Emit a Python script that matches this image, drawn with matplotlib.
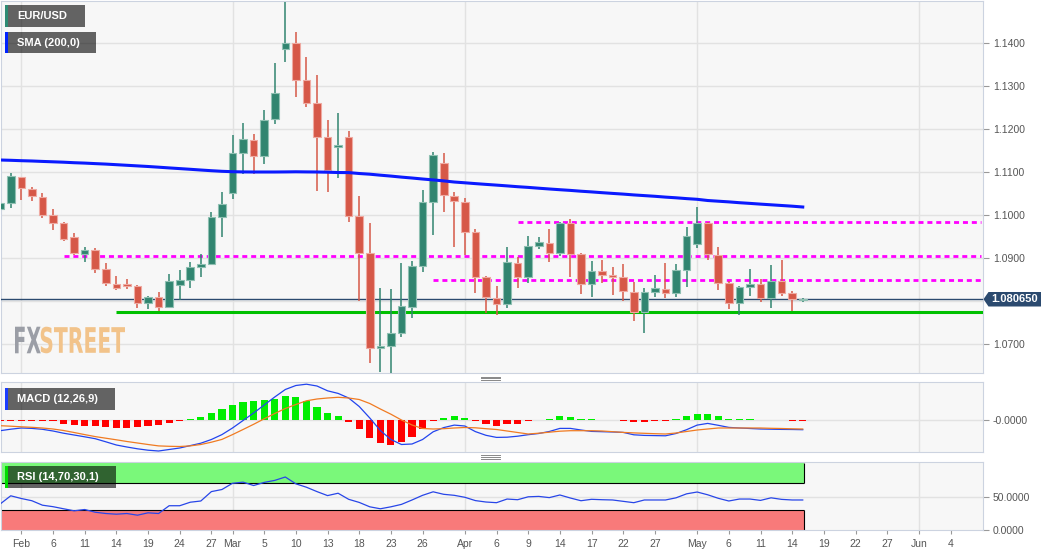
import numpy as np
import pandas as pd
import matplotlib
matplotlib.use('Agg')
import matplotlib.pyplot as plt
from matplotlib.patches import Rectangle, Polygon, PathPatch
from matplotlib.lines import Line2D
from matplotlib.textpath import TextPath
from matplotlib.font_manager import FontProperties
from matplotlib.transforms import Affine2D

plt.rcParams['font.family'] = ['Liberation Sans', 'DejaVu Sans']

# daily candles, 30 Jan 2020 .. 15 May 2020 (weekdays)
opens = [1.1014, 1.1029, 1.1088, 1.1062, 1.1043, 1.1001, 1.0981, 1.0949, 1.0911, 1.0919,
         1.0876, 1.0840, 1.0840, 1.0836, 1.0795, 1.0809, 1.0786, 1.0838, 1.0850, 1.0879,
         1.0886, 1.0997, 1.1053, 1.1144, 1.1175, 1.1139, 1.1223, 1.1387, 1.1400, 1.1315,
         1.1262, 1.1183, 1.1158, 1.1183, 1.0998, 1.0913, 1.0692, 1.0696, 1.0727, 1.0787,
         1.0882, 1.1032, 1.1121, 1.1046, 1.1032, 1.0962, 1.0856, 1.0807, 1.0794, 1.0890,
         1.0857, 1.0929, 1.0936, 1.0913, 1.0981, 1.0910, 1.0840, 1.0871, 1.0861, 1.0857,
         1.0822, 1.0776, 1.0822, 1.0829, 1.0820, 1.0873, 1.0933, 1.0981, 1.0908, 1.0843,
         1.0795, 1.0834, 1.0840, 1.0808, 1.0847, 1.0819, 1.0804]
highs = [1.1031, 1.1098, 1.1090, 1.1066, 1.1051, 1.1014, 1.0985, 1.0958, 1.0927, 1.0925,
         1.0888, 1.0860, 1.0852, 1.0839, 1.0812, 1.0821, 1.0863, 1.0873, 1.0891, 1.0910,
         1.1007, 1.1054, 1.1187, 1.1214, 1.1188, 1.1245, 1.1354, 1.1495, 1.1426, 1.1367,
         1.1327, 1.1222, 1.1237, 1.1195, 1.1045, 1.0981, 1.0830, 1.0829, 1.0888, 1.0894,
         1.1059, 1.1148, 1.1144, 1.1055, 1.1040, 1.0967, 1.0858, 1.0836, 1.0926, 1.0902,
         1.0952, 1.0950, 1.0967, 1.0985, 1.0991, 1.0913, 1.0894, 1.0896, 1.0879, 1.0886,
         1.0846, 1.0830, 1.0861, 1.0888, 1.0886, 1.0972, 1.1019, 1.0985, 1.0926, 1.0847,
         1.0836, 1.0875, 1.0851, 1.0884, 1.0896, 1.0824, 1.0807]
lows = [1.1008, 1.1016, 1.1036, 1.1033, 1.0993, 1.0966, 1.0940, 1.0908, 1.0891, 1.0865,
        1.0836, 1.0826, 1.0828, 1.0785, 1.0781, 1.0777, 1.0784, 1.0803, 1.0830, 1.0857,
        1.0885, 1.0950, 1.1038, 1.1095, 1.1095, 1.1119, 1.1212, 1.1356, 1.1274, 1.1251,
        1.1057, 1.1055, 1.1086, 1.0985, 1.0801, 1.0656, 1.0636, 1.0634, 1.0718, 1.0761,
        1.0869, 1.0954, 1.1008, 1.0927, 1.0908, 1.0820, 1.0772, 1.0768, 1.0784, 1.0830,
        1.0842, 1.0922, 1.0892, 1.0905, 1.0856, 1.0816, 1.0811, 1.0842, 1.0815, 1.0801,
        1.0755, 1.0727, 1.0811, 1.0807, 1.0811, 1.0834, 1.0923, 1.0896, 1.0826, 1.0781,
        1.0768, 1.0813, 1.0799, 1.0784, 1.0812, 1.0777, 1.0798]
closes = [1.1028, 1.1092, 1.1063, 1.1046, 1.1001, 1.0981, 1.0944, 1.0912, 1.0919, 1.0876,
          1.0842, 1.0830, 1.0836, 1.0795, 1.0809, 1.0787, 1.0847, 1.0850, 1.0879, 1.0886,
          1.0995, 1.1026, 1.1144, 1.1177, 1.1139, 1.1222, 1.1284, 1.1400, 1.1315, 1.1262,
          1.1183, 1.1105, 1.1164, 1.0998, 1.0913, 1.0692, 1.0697, 1.0727, 1.0789, 1.0882,
          1.1030, 1.1140, 1.1047, 1.1033, 1.0962, 1.0857, 1.0809, 1.0793, 1.0891, 1.0857,
          1.0929, 1.0937, 1.0913, 1.0981, 1.0910, 1.0840, 1.0871, 1.0861, 1.0857, 1.0824,
          1.0776, 1.0821, 1.0830, 1.0820, 1.0873, 1.0953, 1.0981, 1.0909, 1.0843, 1.0795,
          1.0833, 1.0840, 1.0808, 1.0847, 1.0819, 1.0805, 1.08065]

sma200 = [1.11286, 1.11279, 1.11270, 1.11263, 1.11253, 1.11244, 1.11235, 1.11223, 1.11214, 1.11202,
          1.11191, 1.11177, 1.11163, 1.11149, 1.11135, 1.11119, 1.11102, 1.11086, 1.11070, 1.11053,
          1.11037, 1.11023, 1.11014, 1.11009, 1.11007, 1.11007, 1.11007, 1.11009, 1.11012, 1.11009,
          1.11007, 1.11002, 1.10995, 1.10993, 1.10972, 1.10956, 1.10933, 1.10912, 1.10888, 1.10867,
          1.10844, 1.10823, 1.10800, 1.10774, 1.10756, 1.10737, 1.10719, 1.10702, 1.10684, 1.10665,
          1.10649, 1.10630, 1.10612, 1.10595, 1.10579, 1.10560, 1.10544, 1.10526, 1.10509, 1.10493,
          1.10474, 1.10458, 1.10442, 1.10423, 1.10407, 1.10388, 1.10372, 1.10344, 1.10328, 1.10312,
          1.10293, 1.10277, 1.10260, 1.10244, 1.10228, 1.10212, 1.10193]

# MACD (12,26,9), in units of 0.0001
macd = [-11.2, -9.7, -8.5, -8.9, -9.8, -11.5, -13.7, -15.5, -17.3, -19.2,
        -22.3, -25.5, -27.5, -29.3, -30.7, -31.5, -30.0, -28.5, -26.1, -23.7,
        -20.0, -15.1, -8.5, -1.0, 6.5, 14.5, 22.5, 30.0, 34.0, 35.3,
        33.5, 28.7, 26.1, 21.5, 13.0, 1.5, -11.0, -20.0, -25.0, -24.5,
        -20.0, -12.3, -8.1, -5.6, -6.5, -12.1, -15.8, -17.9, -17.7, -16.7,
        -15.2, -14.0, -12.0, -8.9, -8.9, -10.5, -11.9, -12.2, -12.5, -12.9,
        -15.3, -15.9, -16.1, -16.3, -14.0, -10.2, -5.6, -3.9, -5.8, -7.9,
        -8.5, -9.0, -9.5, -9.7, -9.9, -10.0, -10.2]
signal = [-6.2, -6.7, -7.3, -7.8, -8.5, -9.5, -11.0, -13.0, -15.1, -17.1,
          -18.7, -20.3, -22.0, -23.5, -25.0, -26.4, -26.8, -27.0, -26.4, -25.0,
          -22.7, -19.9, -15.1, -10.0, -4.8, 0.7, 6.0, 11.0, 15.0, 18.7,
          20.5, 21.5, 22.2, 21.5, 20.0, 16.0, 10.5, 5.3, -0.5, -5.5,
          -9.0, -9.5, -9.2, -8.5, -8.0, -8.3, -9.2, -10.0, -11.5, -13.0,
          -14.5, -13.7, -12.7, -11.7, -11.2, -11.2, -11.2, -11.5, -12.2, -12.9,
          -13.4, -13.8, -14.2, -14.5, -13.5, -12.0, -10.5, -9.5, -8.5, -8.5,
          -8.5, -8.5, -8.5, -8.8, -9.0, -9.3, -9.5]
hist = [-1.5, -1.5, -1.5, -1.5, -1.5, -1.5, -4.0, -5.0, -6.4, -6.8,
        -7.4, -8.1, -8.1, -7.4, -6.4, -5.0, -3.4, -1.0, 0.5, 2.4,
        6.4, 10.1, 14.5, 17.9, 18.2, 19.6, 20.6, 23.6, 22.3, 18.6,
        12.8, 6.8, 3.4, -2.4, -9.1, -18.6, -23.6, -25.0, -22.6, -17.6,
        -9.8, -1.0, 1.7, 3.4, 2.0, -1.0, -4.0, -6.4, -4.4, -4.0,
        -1.5, -0.5, 0.5, 3.4, 2.7, 0.5, 0.3, -0.3, -0.5, -1.0,
        -2.4, -2.0, -1.0, -1.0, 0.5, 3.7, 6.0, 6.0, 4.0, 1.0,
        0.5, 0.3, -0.5, -0.3, -0.5, -1.0, -1.0]

rsi = [39.1, 51.2, 47.2, 43.9, 37.3, 35.1, 32.0, 29.0, 30.9, 26.9,
       25.0, 24.0, 25.0, 22.5, 26.0, 25.0, 36.5, 36.5, 41.7, 43.5,
       57.4, 60.5, 69.7, 71.4, 66.4, 71.0, 74.0, 79.0, 68.9, 63.9,
       57.4, 51.5, 55.0, 46.0, 41.4, 34.9, 32.0, 34.9, 38.5, 45.0,
       51.9, 57.1, 53.4, 51.9, 49.0, 44.1, 42.0, 41.0, 46.4, 45.4,
       49.7, 50.3, 48.5, 52.4, 47.9, 43.9, 46.0, 45.4, 45.0, 43.0,
       41.0, 45.0, 45.0, 45.0, 48.2, 54.1, 56.8, 52.7, 47.5, 43.5,
       46.4, 46.4, 44.4, 48.2, 45.9, 45.0, 45.0]

tick_dates = ['2020-02-03', '2020-02-06', '2020-02-11', '2020-02-14', '2020-02-19', '2020-02-24',
              '2020-02-27', '2020-03-02', '2020-03-05', '2020-03-10', '2020-03-13', '2020-03-18',
              '2020-03-23', '2020-03-26', '2020-04-01', '2020-04-06', '2020-04-09', '2020-04-14',
              '2020-04-17', '2020-04-22', '2020-04-27', '2020-05-01', '2020-05-06', '2020-05-11',
              '2020-05-14', '2020-05-19', '2020-05-22', '2020-05-27', '2020-06-01', '2020-06-04']
tick_labels = ['Feb', '6', '11', '14', '19', '24', '27', 'Mar', '5', '10', '13', '18', '23', '26',
               'Apr', '6', '9', '14', '17', '22', '27', 'May', '6', '11', '14', '19', '22', '27',
               'Jun', '4']
month_starts = ['2020-02-03', '2020-03-02', '2020-04-01', '2020-05-01', '2020-06-01']

last_price = 1.08065
support = 1.0776
resist = [(1.0984, '2020-04-08'), (1.0905, '2020-02-07'), (1.0849, '2020-03-27')]

W, H = 1060, 555
GREEN, RED = '#318570', '#d65848'
GREEN_E, RED_E = '#8fc0b2', '#efaaa2'
BG = '#f7f7f7'
SPINE = '#ccd3e0'
GRID = '#e2e2e2'

days = pd.bdate_range('2020-01-30', '2020-06-10')
pos = lambda d: days.get_loc(pd.Timestamp(d)) - 2
xs = np.arange(len(closes)) - 2

fig = plt.figure(figsize=(W / 100, H / 100), dpi=100)
# image pixel coords (origin top-left) -> display
T = Affine2D().scale(1, -1).translate(0, H)


def panel(top, bottom):
    ax = fig.add_axes([0.5 / W, 1 - bottom / H, 982.5 / W, (bottom - top) / H])
    ax.set_facecolor(BG)
    for s in ax.spines.values():
        s.set_color(SPINE)
    ax.set_xlim(-1.97, 91.07)
    ax.yaxis.tick_right()
    ax.tick_params(axis='y', direction='out', length=4, color='#999999',
                   labelcolor='#555555', labelsize=7.5, pad=3)
    ax.tick_params(axis='x', bottom=False, labelbottom=False)
    for d in month_starts:
        ax.axvline(pos(d), color=GRID, lw=1, zorder=0)
    return ax


# main price panel
ax = panel(1, 372.5)
ax.set_ylim(1.063442, 1.149837)
yt = [1.07, 1.09, 1.10, 1.11, 1.12, 1.13, 1.14]
ax.set_yticks(yt)
ax.set_yticklabels(['%.4f' % v for v in yt])
for v in np.arange(1.07, 1.145, 0.01):
    ax.axhline(v, color=GRID, lw=1, zorder=0)

ax.axhline(last_price, color='#2b4a6f', lw=1, zorder=3)
ax.hlines(support, pos('2020-02-14'), 91.07, color='#00c000', lw=2.2, zorder=3)
for lvl, start in resist:
    ax.hlines(lvl, pos(start), 90.9, color='#ff00ff', lw=2, linestyles=(0, (1.8, 1.4)), zorder=3)
ax.plot(xs, sma200, color='#0a1aff', lw=2.2, zorder=6)

o, hi, lo, c = map(np.array, (opens, highs, lows, closes))
up = c >= o
ax.vlines(xs, lo, hi, colors=np.where(up, GREEN, RED), lw=1.1, zorder=4)
ax.bar(xs, np.abs(c - o), bottom=np.minimum(o, c), width=0.72,
       color=np.where(up, GREEN, RED), edgecolor=np.where(up, GREEN_E, RED_E),
       linewidth=0.8, zorder=5)

# MACD panel
ax2 = panel(382.4, 452.4)
ax2.set_ylim(-32.9e-4, 37.1e-4)
ax2.set_yticks([0])
ax2.set_yticklabels(['-0.0000'])
ax2.axhline(0, color=GRID, lw=1, zorder=0)
hv = np.array(hist) * 1e-4
ax2.bar(xs, hv, width=0.68, color=np.where(hv >= 0, '#00ee00', '#ff0000'), zorder=3)
ax2.plot(xs, np.array(macd) * 1e-4, color='#2244ee', lw=0.9, zorder=4)
ax2.plot(xs, np.array(signal) * 1e-4, color='#f07b22', lw=0.9, zorder=4)

# RSI panel
ax3 = panel(461.8, 530.4)
ax3.set_ylim(0, 101.5)
ax3.set_yticks([0, 50])
ax3.set_yticklabels(['0.0000', '50.0000'])
ax3.axhline(50, color=GRID, lw=1, zorder=0)
xa, xb = xs[0], xs[-1] + 0.15
ax3.add_patch(Rectangle((xa, 70), xb - xa, 30, facecolor='#7af87a', edgecolor='none', zorder=1))
ax3.add_patch(Rectangle((xa, 0), xb - xa, 30, facecolor='#f87a7a', edgecolor='none', zorder=1))
ax3.hlines([70, 30], xa, xb, color='black', lw=0.8, zorder=2)
ax3.vlines([xa, xb], 70, 100, color='black', lw=0.8, zorder=2)
ax3.vlines([xa, xb], 0, 30, color='black', lw=0.8, zorder=2)
ax3.plot(xs, rsi, color='#2846e8', lw=0.9, zorder=4)
ax3.set_xticks([pos(d) for d in tick_dates])
ax3.set_xticklabels(tick_labels)
ax3.tick_params(axis='x', bottom=True, labelbottom=True, direction='out', length=3,
                color='#999999', labelcolor='#555555', labelsize=7.5, pad=3)


# overlays in image pixel coords
def label_box(x0, y0, x1, y1, strip, text):
    fig.add_artist(Rectangle((x0, y0), x1 - x0, y1 - y0, transform=T,
                             facecolor='black', alpha=0.6, edgecolor='none', zorder=10))
    fig.add_artist(Rectangle((x0, y0), 2.5, y1 - y0, transform=T,
                             facecolor=strip, edgecolor='none', zorder=11))
    fig.text(x0 + 12, (y0 + y1) / 2, text, transform=T, color='white', fontsize=8,
             fontweight='bold', va='center', ha='left', zorder=12)


label_box(5, 5, 85, 26.7, '#2e8b74', 'EUR/USD')
label_box(5, 32, 96, 53.3, '#0022ff', 'SMA (200,0)')
label_box(5, 387.5, 115, 409.5, '#1a3cff', 'MACD (12,26,9)')
label_box(5, 466, 116, 488, '#00dd00', 'RSI (14,70,30,1)')

# last price tag
fig.add_artist(Polygon([(983.5, 299.2), (988.5, 292), (1041, 292), (1041, 306.5), (988.5, 306.5)],
                       closed=True, transform=T, facecolor='#2b4a6f', edgecolor='none', zorder=10))
fig.text(1014.5, 299.5, '%.6f' % last_price, transform=T, color='white', fontsize=8,
         fontweight='bold', ha='center', va='center', zorder=11)

# drag handles between panels
for yc in (378.4, 457.2):
    for dy in (-1.8, 0, 1.8):
        fig.add_artist(Line2D([481, 500], [yc + dy, yc + dy], transform=T,
                              color='#888888', lw=0.7, zorder=10))

# FXSTREET watermark, squeezed text paths
fp = FontProperties(family='DejaVu Sans', weight='bold')
x_at = 15
for word, width, colr in (('FX', 25.7, '#9b9ea6'), ('STREET', 84.3, '#f2c38a')):
    tp = TextPath((0, 0), word, size=30, prop=fp)
    ext = tp.get_extents()
    sx = width / ext.width
    sy = 26.6 / ext.height
    tr = Affine2D().translate(-ext.x0, -ext.y0).scale(sx, sy).translate(x_at, H - 353.3)
    fig.add_artist(PathPatch(tp, transform=tr, facecolor=colr, edgecolor='none', zorder=2))
    x_at += width

fig.savefig('out.png', dpi=100, facecolor='white')
